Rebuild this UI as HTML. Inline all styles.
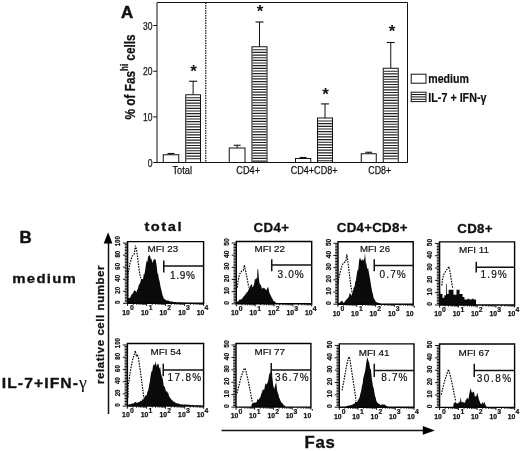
<!DOCTYPE html>
<html><head><meta charset="utf-8"><title>Figure</title>
<style>
html,body{margin:0;padding:0;background:#fff;}
body{width:520px;height:451px;overflow:hidden;font-family:"Liberation Sans",sans-serif;}
svg{display:block;filter:grayscale(1) blur(0.35px);}
svg text{font-family:"Liberation Sans",sans-serif;}
</style></head><body>
<svg width="520" height="451" viewBox="0 0 520 451">
<rect width="520" height="451" fill="#fff"/>
<path d="M157.0 2.5H407.5V162.5H157.0Z" fill="none" stroke="#111" stroke-width="1"/>
<line x1="205.75" y1="2.50" x2="205.75" y2="162.50" stroke="#111" stroke-width="1.2" stroke-dasharray="1.4 1.1"/>
<line x1="153.30" y1="25.50" x2="157.00" y2="25.50" stroke="#111" stroke-width="1" />
<text x="143.00" y="29.50" font-size="11" textLength="9.50" lengthAdjust="spacingAndGlyphs" stroke="#111" stroke-width="0.25" stroke-linejoin="round" fill="#111" >30</text>
<line x1="153.30" y1="71.25" x2="157.00" y2="71.25" stroke="#111" stroke-width="1" />
<text x="143.00" y="75.25" font-size="11" textLength="9.50" lengthAdjust="spacingAndGlyphs" stroke="#111" stroke-width="0.25" stroke-linejoin="round" fill="#111" >20</text>
<line x1="153.30" y1="116.90" x2="157.00" y2="116.90" stroke="#111" stroke-width="1" />
<text x="143.00" y="120.90" font-size="11" textLength="9.50" lengthAdjust="spacingAndGlyphs" stroke="#111" stroke-width="0.25" stroke-linejoin="round" fill="#111" >10</text>
<line x1="153.30" y1="162.50" x2="157.00" y2="162.50" stroke="#111" stroke-width="1" />
<text x="147.70" y="166.50" font-size="11" textLength="4.80" lengthAdjust="spacingAndGlyphs" stroke="#111" stroke-width="0.25" stroke-linejoin="round" fill="#111" >0</text>
<g transform="translate(134.6 119.4) rotate(-90)">
<text x="0.00" y="0.00" font-size="15" font-weight="bold" textLength="85.00" lengthAdjust="spacingAndGlyphs" stroke="#111" stroke-width="0.25" stroke-linejoin="round" fill="#111" >% of Fas<tspan font-size="10" dy="-6.5">hi</tspan><tspan dy="6.5"> cells</tspan></text>
</g>
<text x="121.10" y="17.90" font-size="16.6" font-weight="bold" textLength="12.20" lengthAdjust="spacingAndGlyphs" stroke="#111" stroke-width="0.5" stroke-linejoin="round" fill="#111" >A</text>
<defs><pattern id="st" x="0" y="0.2" width="3" height="2.65" patternUnits="userSpaceOnUse"><rect x="0" y="0" width="3" height="1.15" fill="#222"/></pattern></defs>
<line x1="171.00" y1="153.50" x2="171.00" y2="154.75" stroke="#111" stroke-width="1" />
<line x1="167.50" y1="153.50" x2="174.50" y2="153.50" stroke="#111" stroke-width="1.1" />
<rect x="163.25" y="154.75" width="15.50" height="7.75" fill="#fff" stroke="#111" stroke-width="1"/>
<line x1="193.12" y1="81.25" x2="193.12" y2="94.75" stroke="#111" stroke-width="1" />
<line x1="189.12" y1="81.25" x2="197.12" y2="81.25" stroke="#111" stroke-width="1.1" />
<rect x="185.75" y="94.75" width="14.75" height="67.75" fill="#fff" stroke="#111" stroke-width="1"/>
<path d="M186.25 97.75H200.00M186.25 100.40H200.00M186.25 103.05H200.00M186.25 105.70H200.00M186.25 108.35H200.00M186.25 111.00H200.00M186.25 113.65H200.00M186.25 116.30H200.00M186.25 118.95H200.00M186.25 121.60H200.00M186.25 124.25H200.00M186.25 126.90H200.00M186.25 129.55H200.00M186.25 132.20H200.00M186.25 134.85H200.00M186.25 137.50H200.00M186.25 140.15H200.00M186.25 142.80H200.00M186.25 145.45H200.00M186.25 148.10H200.00M186.25 150.75H200.00M186.25 153.40H200.00M186.25 156.05H200.00M186.25 158.70H200.00" fill="none" stroke="#222" stroke-width="1.15"/>
<text x="193.50" y="76.80" font-size="17" font-weight="bold" text-anchor="middle" fill="#111" >*</text>
<text x="172.50" y="174.30" font-size="11.5" textLength="19.50" lengthAdjust="spacingAndGlyphs" stroke="#111" stroke-width="0.25" stroke-linejoin="round" fill="#111" >Total</text>
<line x1="237.12" y1="145.25" x2="237.12" y2="148.00" stroke="#111" stroke-width="1" />
<line x1="233.62" y1="145.25" x2="240.62" y2="145.25" stroke="#111" stroke-width="1.1" />
<rect x="229.25" y="148.00" width="15.75" height="14.50" fill="#fff" stroke="#111" stroke-width="1"/>
<line x1="259.50" y1="22.00" x2="259.50" y2="46.75" stroke="#111" stroke-width="1" />
<line x1="255.50" y1="22.00" x2="263.50" y2="22.00" stroke="#111" stroke-width="1.1" />
<rect x="252.00" y="46.75" width="15.00" height="115.75" fill="#fff" stroke="#111" stroke-width="1"/>
<path d="M252.50 49.75H266.50M252.50 52.40H266.50M252.50 55.05H266.50M252.50 57.70H266.50M252.50 60.35H266.50M252.50 63.00H266.50M252.50 65.65H266.50M252.50 68.30H266.50M252.50 70.95H266.50M252.50 73.60H266.50M252.50 76.25H266.50M252.50 78.90H266.50M252.50 81.55H266.50M252.50 84.20H266.50M252.50 86.85H266.50M252.50 89.50H266.50M252.50 92.15H266.50M252.50 94.80H266.50M252.50 97.45H266.50M252.50 100.10H266.50M252.50 102.75H266.50M252.50 105.40H266.50M252.50 108.05H266.50M252.50 110.70H266.50M252.50 113.35H266.50M252.50 116.00H266.50M252.50 118.65H266.50M252.50 121.30H266.50M252.50 123.95H266.50M252.50 126.60H266.50M252.50 129.25H266.50M252.50 131.90H266.50M252.50 134.55H266.50M252.50 137.20H266.50M252.50 139.85H266.50M252.50 142.50H266.50M252.50 145.15H266.50M252.50 147.80H266.50M252.50 150.45H266.50M252.50 153.10H266.50M252.50 155.75H266.50M252.50 158.40H266.50M252.50 161.05H266.50" fill="none" stroke="#222" stroke-width="1.15"/>
<text x="260.00" y="17.30" font-size="17" font-weight="bold" text-anchor="middle" fill="#111" >*</text>
<text x="236.25" y="174.30" font-size="11.5" textLength="23.75" lengthAdjust="spacingAndGlyphs" stroke="#111" stroke-width="0.25" stroke-linejoin="round" fill="#111" >CD4+</text>
<line x1="303.12" y1="157.50" x2="303.12" y2="158.50" stroke="#111" stroke-width="1" />
<line x1="299.62" y1="157.50" x2="306.62" y2="157.50" stroke="#111" stroke-width="1.1" />
<rect x="295.50" y="158.50" width="15.25" height="4.00" fill="#fff" stroke="#111" stroke-width="1"/>
<line x1="325.00" y1="103.90" x2="325.00" y2="118.00" stroke="#111" stroke-width="1" />
<line x1="321.00" y1="103.90" x2="329.00" y2="103.90" stroke="#111" stroke-width="1.1" />
<rect x="317.50" y="118.00" width="15.00" height="44.50" fill="#fff" stroke="#111" stroke-width="1"/>
<path d="M318.00 121.00H332.00M318.00 123.65H332.00M318.00 126.30H332.00M318.00 128.95H332.00M318.00 131.60H332.00M318.00 134.25H332.00M318.00 136.90H332.00M318.00 139.55H332.00M318.00 142.20H332.00M318.00 144.85H332.00M318.00 147.50H332.00M318.00 150.15H332.00M318.00 152.80H332.00M318.00 155.45H332.00M318.00 158.10H332.00M318.00 160.75H332.00" fill="none" stroke="#222" stroke-width="1.15"/>
<text x="325.50" y="100.30" font-size="17" font-weight="bold" text-anchor="middle" fill="#111" >*</text>
<text x="290.75" y="174.30" font-size="11.5" textLength="46.75" lengthAdjust="spacingAndGlyphs" stroke="#111" stroke-width="0.25" stroke-linejoin="round" fill="#111" >CD4+CD8+</text>
<line x1="368.75" y1="152.25" x2="368.75" y2="153.75" stroke="#111" stroke-width="1" />
<line x1="365.25" y1="152.25" x2="372.25" y2="152.25" stroke="#111" stroke-width="1.1" />
<rect x="361.25" y="153.75" width="15.00" height="8.75" fill="#fff" stroke="#111" stroke-width="1"/>
<line x1="390.75" y1="42.50" x2="390.75" y2="68.25" stroke="#111" stroke-width="1" />
<line x1="386.75" y1="42.50" x2="394.75" y2="42.50" stroke="#111" stroke-width="1.1" />
<rect x="383.25" y="68.25" width="15.00" height="94.25" fill="#fff" stroke="#111" stroke-width="1"/>
<path d="M383.75 71.25H397.75M383.75 73.90H397.75M383.75 76.55H397.75M383.75 79.20H397.75M383.75 81.85H397.75M383.75 84.50H397.75M383.75 87.15H397.75M383.75 89.80H397.75M383.75 92.45H397.75M383.75 95.10H397.75M383.75 97.75H397.75M383.75 100.40H397.75M383.75 103.05H397.75M383.75 105.70H397.75M383.75 108.35H397.75M383.75 111.00H397.75M383.75 113.65H397.75M383.75 116.30H397.75M383.75 118.95H397.75M383.75 121.60H397.75M383.75 124.25H397.75M383.75 126.90H397.75M383.75 129.55H397.75M383.75 132.20H397.75M383.75 134.85H397.75M383.75 137.50H397.75M383.75 140.15H397.75M383.75 142.80H397.75M383.75 145.45H397.75M383.75 148.10H397.75M383.75 150.75H397.75M383.75 153.40H397.75M383.75 156.05H397.75M383.75 158.70H397.75" fill="none" stroke="#222" stroke-width="1.15"/>
<text x="392.00" y="36.80" font-size="17" font-weight="bold" text-anchor="middle" fill="#111" >*</text>
<text x="368.25" y="174.30" font-size="11.5" textLength="23.00" lengthAdjust="spacingAndGlyphs" stroke="#111" stroke-width="0.25" stroke-linejoin="round" fill="#111" >CD8+</text>
<rect x="411.2" y="74.2" width="14.8" height="9.0" fill="#fff" stroke="#111" stroke-width="1"/>
<rect x="411.2" y="92.2" width="14.8" height="9.4" fill="#fff" stroke="#111" stroke-width="1"/>
<line x1="411.50" y1="94.55" x2="425.70" y2="94.55" stroke="#111" stroke-width="1.0" />
<line x1="411.50" y1="96.90" x2="425.70" y2="96.90" stroke="#111" stroke-width="1.0" />
<line x1="411.50" y1="99.25" x2="425.70" y2="99.25" stroke="#111" stroke-width="1.0" />
<text x="428.30" y="83.30" font-size="13" font-weight="bold" textLength="40.60" lengthAdjust="spacingAndGlyphs" stroke="#111" stroke-width="0.2" stroke-linejoin="round" fill="#111" >medium</text>
<text x="428.30" y="101.50" font-size="13" font-weight="bold" textLength="58.20" lengthAdjust="spacingAndGlyphs" stroke="#111" stroke-width="0.2" stroke-linejoin="round" fill="#111" >IL-7 + IFN-&#947;</text>
<text x="19.50" y="243.00" font-size="16.8" font-weight="bold" textLength="12.20" lengthAdjust="spacingAndGlyphs" stroke="#111" stroke-width="0.45" stroke-linejoin="round" fill="#111" >B</text>
<g transform="translate(12.30 283.40) scale(1.1 1)">
<text x="0.00" y="0.00" font-size="13.6" font-weight="bold" textLength="57.82" lengthAdjust="spacing" stroke="#111" stroke-width="0.3" stroke-linejoin="round" fill="#111" >medium</text>
</g>
<g transform="translate(1.80 387.90) scale(1.1 1)">
<text x="0.00" y="0.00" font-size="14.3" font-weight="bold" textLength="77.27" lengthAdjust="spacing" stroke="#111" stroke-width="0.3" stroke-linejoin="round" fill="#111" >IL-7+IFN-<tspan font-weight="normal" font-family="Liberation Serif, serif" font-size="16" stroke-width="0.1">&#947;</tspan></text>
</g>
<g transform="translate(104.0 384) rotate(-90)">
<text x="0.00" y="0.00" font-size="11.5" font-weight="bold" textLength="118.50" lengthAdjust="spacing" stroke="#111" stroke-width="0.3" stroke-linejoin="round" fill="#111" >relative cell number</text>
</g>
<line x1="108.50" y1="240.00" x2="108.50" y2="414.00" stroke="#111" stroke-width="1.5" />
<path d="M108.1 232.2 L112.4 243.5 L103.7 243.5 Z" fill="#000"/>
<line x1="221.50" y1="430.40" x2="426.00" y2="430.40" stroke="#111" stroke-width="1.5" />
<path d="M434.9 430.4 L422.8 426.0 L422.8 434.7 Z" fill="#000"/>
<text x="304.40" y="448.00" font-size="16.8" font-weight="bold" textLength="30.50" lengthAdjust="spacing" stroke="#111" stroke-width="0.35" stroke-linejoin="round" fill="#111" >Fas</text>
<g transform="translate(144.40 231.10) scale(1.1 1)">
<text x="0.00" y="0.00" font-size="13.3" font-weight="bold" textLength="33.82" lengthAdjust="spacing" stroke="#111" stroke-width="0.3" stroke-linejoin="round" fill="#111" >total</text>
</g>
<text x="253.60" y="232.20" font-size="13.3" font-weight="bold" textLength="35.40" lengthAdjust="spacing" stroke="#111" stroke-width="0.3" stroke-linejoin="round" fill="#111" >CD4+</text>
<text x="336.80" y="232.40" font-size="13.3" font-weight="bold" textLength="70.60" lengthAdjust="spacing" stroke="#111" stroke-width="0.3" stroke-linejoin="round" fill="#111" >CD4+CD8+</text>
<text x="457.30" y="232.60" font-size="13.3" font-weight="bold" textLength="35.20" lengthAdjust="spacing" stroke="#111" stroke-width="0.3" stroke-linejoin="round" fill="#111" >CD8+</text>
<polyline points="127.88,301.96 127.88,283.23 128.17,273.14 130.04,263.05 131.48,258.01 132.93,255.13 134.37,253.69 135.37,245.76 136.53,250.09 137.25,254.41 137.97,260.17 138.69,265.94 139.41,271.70 140.13,276.02 140.85,278.18" fill="none" stroke="#000" stroke-width="1.15" stroke-dasharray="1.6 1.1"/>
<path d="M127.59 303.30 L127.59 297.30 L128.46 298.05 L129.32 298.20 L130.04 297.53 L130.76 296.62 L131.48 294.81 L132.20 293.46 L132.93 293.69 L133.65 291.40 L134.22 290.23 L134.80 290.82 L135.52 290.73 L136.24 292.54 L137.10 290.02 L137.97 288.61 L138.69 285.18 L139.41 284.34 L140.27 282.61 L141.14 278.99 L142.00 278.64 L143.01 279.51 L143.73 274.33 L144.45 274.23 L145.17 269.96 L145.89 264.93 L146.61 260.51 L147.33 262.28 L148.05 257.12 L148.78 255.82 L149.50 255.21 L150.07 255.65 L150.65 258.50 L151.66 259.57 L152.67 263.30 L153.24 259.49 L153.82 260.64 L154.54 258.92 L155.55 259.36 L156.12 262.58 L156.70 265.99 L157.42 273.06 L158.14 274.32 L158.86 278.64 L159.58 281.15 L160.30 285.41 L161.02 288.73 L161.74 291.58 L162.46 294.89 L163.18 296.67 L163.90 298.84 L164.63 299.04 L165.35 299.78 L166.07 300.16 L166.79 300.53 L167.51 300.44 L168.23 300.20 L168.95 301.04 L169.67 301.32 L170.39 301.44 L171.11 301.35 L171.83 301.65 L172.55 301.44 L173.37 302.12 L174.18 302.11 L175.00 302.09 L175.75 301.97 L176.50 302.58 L177.25 302.72 L178.01 302.12 L178.76 302.66 L179.51 302.43 L180.26 302.29 L181.01 302.44 L181.76 302.80 L182.51 302.91 L183.26 302.39 L184.02 302.82 L184.77 302.48 L185.52 302.82 L185.52 303.30 Z" fill="#0a0a0a"/>
<path d="M127.6 241.6H203.6V303.3H127.6Z" fill="none" stroke="#000" stroke-width="1.4"/>
<g transform="translate(120.10 302.30) rotate(-90)">
<text x="-1.70" y="0.00" font-size="7.4" font-weight="bold" textLength="3.40" lengthAdjust="spacingAndGlyphs" stroke="#111" stroke-width="0.25" stroke-linejoin="round" fill="#111" >0</text>
</g>
<g transform="translate(120.10 290.28) rotate(-90)">
<text x="-3.40" y="0.00" font-size="7.4" font-weight="bold" textLength="6.80" lengthAdjust="spacingAndGlyphs" stroke="#111" stroke-width="0.25" stroke-linejoin="round" fill="#111" >20</text>
</g>
<g transform="translate(120.10 278.26) rotate(-90)">
<text x="-3.40" y="0.00" font-size="7.4" font-weight="bold" textLength="6.80" lengthAdjust="spacingAndGlyphs" stroke="#111" stroke-width="0.25" stroke-linejoin="round" fill="#111" >40</text>
</g>
<g transform="translate(120.10 266.24) rotate(-90)">
<text x="-3.40" y="0.00" font-size="7.4" font-weight="bold" textLength="6.80" lengthAdjust="spacingAndGlyphs" stroke="#111" stroke-width="0.25" stroke-linejoin="round" fill="#111" >60</text>
</g>
<g transform="translate(120.10 254.22) rotate(-90)">
<text x="-3.40" y="0.00" font-size="7.4" font-weight="bold" textLength="6.80" lengthAdjust="spacingAndGlyphs" stroke="#111" stroke-width="0.25" stroke-linejoin="round" fill="#111" >80</text>
</g>
<g transform="translate(120.10 241.20) rotate(-90)">
<text x="-5.10" y="0.00" font-size="7.4" font-weight="bold" textLength="10.20" lengthAdjust="spacingAndGlyphs" stroke="#111" stroke-width="0.25" stroke-linejoin="round" fill="#111" >100</text>
</g>
<path d="M123.0 303.30H127.6M124.8 301.80H127.6M124.8 300.29H127.6M124.8 298.79H127.6M124.8 297.28H127.6M124.8 295.78H127.6M124.8 294.27H127.6M124.8 292.76H127.6M123.0 291.26H127.6M124.8 289.75H127.6M124.8 288.25H127.6M124.8 286.75H127.6M124.8 285.24H127.6M124.8 283.74H127.6M124.8 282.23H127.6M124.8 280.73H127.6M123.0 279.22H127.6M124.8 277.72H127.6M124.8 276.21H127.6M124.8 274.70H127.6M124.8 273.20H127.6M124.8 271.69H127.6M124.8 270.19H127.6M124.8 268.69H127.6M123.0 267.18H127.6M124.8 265.68H127.6M124.8 264.17H127.6M124.8 262.67H127.6M124.8 261.16H127.6M124.8 259.65H127.6M124.8 258.15H127.6M124.8 256.64H127.6M123.0 255.14H127.6M124.8 253.63H127.6M124.8 252.13H127.6M124.8 250.62H127.6M124.8 249.12H127.6M124.8 247.62H127.6M124.8 246.11H127.6M124.8 244.60H127.6M123.0 243.10H127.6M127.6 303.3v2.6M133.3 303.3v1.5M136.7 303.3v1.5M139.0 303.3v1.5M140.9 303.3v1.5M142.4 303.3v1.5M143.7 303.3v1.5M144.8 303.3v1.5M145.7 303.3v1.5M146.6 303.3v2.6M152.3 303.3v1.5M155.7 303.3v1.5M158.0 303.3v1.5M159.9 303.3v1.5M161.4 303.3v1.5M162.7 303.3v1.5M163.8 303.3v1.5M164.7 303.3v1.5M165.6 303.3v2.6M171.3 303.3v1.5M174.7 303.3v1.5M177.0 303.3v1.5M178.9 303.3v1.5M180.4 303.3v1.5M181.7 303.3v1.5M182.8 303.3v1.5M183.7 303.3v1.5M184.6 303.3v2.6M190.3 303.3v1.5M193.7 303.3v1.5M196.0 303.3v1.5M197.9 303.3v1.5M199.4 303.3v1.5M200.7 303.3v1.5M201.8 303.3v1.5M202.7 303.3v1.5M203.6 303.3v2.6" fill="none" stroke="#111" stroke-width="1.0"/>
<text x="122.30" y="314.60" font-size="7.2" font-weight="bold" textLength="7.60" lengthAdjust="spacingAndGlyphs" stroke="#111" stroke-width="0.25" stroke-linejoin="round" fill="#111" >10</text>
<text x="130.10" y="310.20" font-size="6.6" font-weight="bold" textLength="3.80" lengthAdjust="spacingAndGlyphs" stroke="#111" stroke-width="0.2" stroke-linejoin="round" fill="#111" >0</text>
<text x="140.92" y="314.60" font-size="7.2" font-weight="bold" textLength="7.60" lengthAdjust="spacingAndGlyphs" stroke="#111" stroke-width="0.25" stroke-linejoin="round" fill="#111" >10</text>
<text x="148.72" y="310.20" font-size="6.6" font-weight="bold" textLength="3.80" lengthAdjust="spacingAndGlyphs" stroke="#111" stroke-width="0.2" stroke-linejoin="round" fill="#111" >1</text>
<text x="159.54" y="314.60" font-size="7.2" font-weight="bold" textLength="7.60" lengthAdjust="spacingAndGlyphs" stroke="#111" stroke-width="0.25" stroke-linejoin="round" fill="#111" >10</text>
<text x="167.34" y="310.20" font-size="6.6" font-weight="bold" textLength="3.80" lengthAdjust="spacingAndGlyphs" stroke="#111" stroke-width="0.2" stroke-linejoin="round" fill="#111" >2</text>
<text x="178.16" y="314.60" font-size="7.2" font-weight="bold" textLength="7.60" lengthAdjust="spacingAndGlyphs" stroke="#111" stroke-width="0.25" stroke-linejoin="round" fill="#111" >10</text>
<text x="185.96" y="310.20" font-size="6.6" font-weight="bold" textLength="3.80" lengthAdjust="spacingAndGlyphs" stroke="#111" stroke-width="0.2" stroke-linejoin="round" fill="#111" >3</text>
<text x="196.78" y="314.60" font-size="7.2" font-weight="bold" textLength="7.60" lengthAdjust="spacingAndGlyphs" stroke="#111" stroke-width="0.25" stroke-linejoin="round" fill="#111" >10</text>
<text x="204.58" y="310.20" font-size="6.6" font-weight="bold" textLength="3.80" lengthAdjust="spacingAndGlyphs" stroke="#111" stroke-width="0.2" stroke-linejoin="round" fill="#111" >4</text>
<text x="147.60" y="252.00" font-size="9.5" textLength="30.50" lengthAdjust="spacingAndGlyphs" stroke="#111" stroke-width="0.2" stroke-linejoin="round" fill="#111" >MFI 23</text>
<line x1="163.75" y1="260.50" x2="163.75" y2="272.50" stroke="#111" stroke-width="1.5" />
<line x1="163.75" y1="266.00" x2="203.60" y2="266.00" stroke="#111" stroke-width="1.5" />
<text x="170.00" y="278.80" font-size="10" textLength="25.00" lengthAdjust="spacing" stroke="#111" stroke-width="0.2" stroke-linejoin="round" fill="#111" >1.9%</text>
<polyline points="237.17,287.55 238.03,281.79 239.04,276.02 240.48,272.42 241.93,270.98 243.37,270.26 244.37,265.22 245.24,269.54 246.25,273.86 247.26,278.90 248.12,283.95 249.13,287.55" fill="none" stroke="#000" stroke-width="1.15" stroke-dasharray="1.6 1.1"/>
<path d="M236.59 303.80 L236.59 302.49 L237.41 301.63 L238.23 301.14 L239.04 300.18 L239.76 299.58 L240.48 299.45 L241.20 299.57 L241.93 298.73 L242.65 297.99 L243.37 296.52 L244.09 296.25 L244.81 295.12 L245.53 294.20 L246.25 293.34 L246.97 292.04 L247.69 292.06 L248.41 290.12 L249.13 288.33 L249.85 287.62 L250.57 285.27 L251.58 284.12 L252.16 286.10 L252.73 287.44 L253.45 285.70 L254.17 283.71 L254.89 279.31 L255.61 279.28 L256.33 277.40 L257.05 279.65 L257.49 268.77 L258.21 269.85 L258.78 277.43 L259.36 282.51 L259.94 284.35 L260.51 284.81 L261.09 285.57 L262.10 289.28 L262.82 287.73 L263.54 287.84 L264.26 288.44 L264.98 288.29 L265.99 290.24 L266.56 289.94 L267.14 288.83 L267.72 287.44 L268.29 287.05 L269.30 292.51 L270.31 294.75 L271.03 295.89 L271.75 297.81 L272.47 298.82 L273.19 300.55 L274.13 301.21 L275.07 301.83 L275.79 302.82 L276.51 302.71 L277.23 303.40 L277.23 303.80 Z" fill="#0a0a0a"/>
<path d="M236.3 241.5H311.7V303.8H236.3Z" fill="none" stroke="#000" stroke-width="1.4"/>
<g transform="translate(228.80 302.80) rotate(-90)">
<text x="-1.85" y="0.00" font-size="8.0" font-weight="bold" textLength="3.70" lengthAdjust="spacingAndGlyphs" stroke="#111" stroke-width="0.25" stroke-linejoin="round" fill="#111" >0</text>
</g>
<g transform="translate(228.80 290.66) rotate(-90)">
<text x="-3.70" y="0.00" font-size="8.0" font-weight="bold" textLength="7.40" lengthAdjust="spacingAndGlyphs" stroke="#111" stroke-width="0.25" stroke-linejoin="round" fill="#111" >10</text>
</g>
<g transform="translate(228.80 278.52) rotate(-90)">
<text x="-3.70" y="0.00" font-size="8.0" font-weight="bold" textLength="7.40" lengthAdjust="spacingAndGlyphs" stroke="#111" stroke-width="0.25" stroke-linejoin="round" fill="#111" >20</text>
</g>
<g transform="translate(228.80 266.38) rotate(-90)">
<text x="-3.70" y="0.00" font-size="8.0" font-weight="bold" textLength="7.40" lengthAdjust="spacingAndGlyphs" stroke="#111" stroke-width="0.25" stroke-linejoin="round" fill="#111" >30</text>
</g>
<g transform="translate(228.80 254.24) rotate(-90)">
<text x="-3.70" y="0.00" font-size="8.0" font-weight="bold" textLength="7.40" lengthAdjust="spacingAndGlyphs" stroke="#111" stroke-width="0.25" stroke-linejoin="round" fill="#111" >40</text>
</g>
<g transform="translate(228.80 242.10) rotate(-90)">
<text x="-3.70" y="0.00" font-size="8.0" font-weight="bold" textLength="7.40" lengthAdjust="spacingAndGlyphs" stroke="#111" stroke-width="0.25" stroke-linejoin="round" fill="#111" >50</text>
</g>
<path d="M231.7 303.80H236.3M233.5 302.28H236.3M233.5 300.76H236.3M233.5 299.24H236.3M233.5 297.72H236.3M233.5 296.20H236.3M233.5 294.68H236.3M233.5 293.16H236.3M231.7 291.64H236.3M233.5 290.12H236.3M233.5 288.60H236.3M233.5 287.08H236.3M233.5 285.56H236.3M233.5 284.04H236.3M233.5 282.52H236.3M233.5 281.00H236.3M231.7 279.48H236.3M233.5 277.96H236.3M233.5 276.44H236.3M233.5 274.92H236.3M233.5 273.40H236.3M233.5 271.88H236.3M233.5 270.36H236.3M233.5 268.84H236.3M231.7 267.32H236.3M233.5 265.80H236.3M233.5 264.28H236.3M233.5 262.76H236.3M233.5 261.24H236.3M233.5 259.72H236.3M233.5 258.20H236.3M233.5 256.68H236.3M231.7 255.16H236.3M233.5 253.64H236.3M233.5 252.12H236.3M233.5 250.60H236.3M233.5 249.08H236.3M233.5 247.56H236.3M233.5 246.04H236.3M233.5 244.52H236.3M231.7 243.00H236.3M236.3 303.8v2.6M242.0 303.8v1.5M245.3 303.8v1.5M247.6 303.8v1.5M249.5 303.8v1.5M251.0 303.8v1.5M252.2 303.8v1.5M253.3 303.8v1.5M254.3 303.8v1.5M255.2 303.8v2.6M260.8 303.8v1.5M264.1 303.8v1.5M266.5 303.8v1.5M268.3 303.8v1.5M269.8 303.8v1.5M271.1 303.8v1.5M272.2 303.8v1.5M273.1 303.8v1.5M274.0 303.8v2.6M279.7 303.8v1.5M283.0 303.8v1.5M285.3 303.8v1.5M287.2 303.8v1.5M288.7 303.8v1.5M289.9 303.8v1.5M291.0 303.8v1.5M292.0 303.8v1.5M292.9 303.8v2.6M298.5 303.8v1.5M301.8 303.8v1.5M304.2 303.8v1.5M306.0 303.8v1.5M307.5 303.8v1.5M308.8 303.8v1.5M309.9 303.8v1.5M310.8 303.8v1.5M311.7 303.8v2.6" fill="none" stroke="#111" stroke-width="1.0"/>
<text x="231.00" y="315.10" font-size="7.2" font-weight="bold" textLength="7.60" lengthAdjust="spacingAndGlyphs" stroke="#111" stroke-width="0.25" stroke-linejoin="round" fill="#111" >10</text>
<text x="238.80" y="310.70" font-size="6.6" font-weight="bold" textLength="3.80" lengthAdjust="spacingAndGlyphs" stroke="#111" stroke-width="0.2" stroke-linejoin="round" fill="#111" >0</text>
<text x="249.47" y="315.10" font-size="7.2" font-weight="bold" textLength="7.60" lengthAdjust="spacingAndGlyphs" stroke="#111" stroke-width="0.25" stroke-linejoin="round" fill="#111" >10</text>
<text x="257.27" y="310.70" font-size="6.6" font-weight="bold" textLength="3.80" lengthAdjust="spacingAndGlyphs" stroke="#111" stroke-width="0.2" stroke-linejoin="round" fill="#111" >1</text>
<text x="267.95" y="315.10" font-size="7.2" font-weight="bold" textLength="7.60" lengthAdjust="spacingAndGlyphs" stroke="#111" stroke-width="0.25" stroke-linejoin="round" fill="#111" >10</text>
<text x="275.75" y="310.70" font-size="6.6" font-weight="bold" textLength="3.80" lengthAdjust="spacingAndGlyphs" stroke="#111" stroke-width="0.2" stroke-linejoin="round" fill="#111" >2</text>
<text x="286.42" y="315.10" font-size="7.2" font-weight="bold" textLength="7.60" lengthAdjust="spacingAndGlyphs" stroke="#111" stroke-width="0.25" stroke-linejoin="round" fill="#111" >10</text>
<text x="294.22" y="310.70" font-size="6.6" font-weight="bold" textLength="3.80" lengthAdjust="spacingAndGlyphs" stroke="#111" stroke-width="0.2" stroke-linejoin="round" fill="#111" >3</text>
<text x="304.89" y="315.10" font-size="7.2" font-weight="bold" textLength="7.60" lengthAdjust="spacingAndGlyphs" stroke="#111" stroke-width="0.25" stroke-linejoin="round" fill="#111" >10</text>
<text x="312.69" y="310.70" font-size="6.6" font-weight="bold" textLength="3.80" lengthAdjust="spacingAndGlyphs" stroke="#111" stroke-width="0.2" stroke-linejoin="round" fill="#111" >4</text>
<text x="254.50" y="251.80" font-size="9.5" textLength="30.50" lengthAdjust="spacingAndGlyphs" stroke="#111" stroke-width="0.2" stroke-linejoin="round" fill="#111" >MFI 22</text>
<line x1="271.75" y1="259.25" x2="271.75" y2="271.25" stroke="#111" stroke-width="1.5" />
<line x1="271.75" y1="265.00" x2="311.70" y2="265.00" stroke="#111" stroke-width="1.5" />
<text x="277.50" y="277.50" font-size="10" textLength="26.25" lengthAdjust="spacing" stroke="#111" stroke-width="0.2" stroke-linejoin="round" fill="#111" >3.0%</text>
<polyline points="338.17,283.23 338.60,278.90 340.04,273.14 341.48,267.38 342.93,263.78 344.37,262.33 345.81,261.61 346.82,254.41 347.68,260.17 348.26,264.50 349.12,271.70 349.99,278.90 350.85,286.11 352.00,291.87 353.01,295.48" fill="none" stroke="#000" stroke-width="1.15" stroke-dasharray="1.6 1.1"/>
<path d="M337.59 304.20 L337.59 303.49 L338.60 303.57 L339.32 302.91 L340.04 302.34 L340.76 301.47 L341.48 300.96 L342.20 300.79 L342.93 301.93 L343.65 303.03 L344.37 302.09 L345.09 301.62 L345.81 300.12 L346.53 299.76 L347.25 298.52 L347.97 297.94 L348.69 297.03 L349.41 294.29 L350.13 292.77 L351.14 295.85 L352.07 294.11 L353.01 291.03 L353.73 287.42 L354.45 286.93 L355.17 282.10 L355.89 280.75 L356.61 275.29 L357.33 270.99 L358.34 269.24 L358.92 262.19 L359.50 258.50 L360.36 258.26 L361.22 260.99 L362.09 258.93 L363.10 260.85 L363.82 259.69 L364.39 258.40 L364.97 253.21 L365.84 262.77 L366.41 263.76 L366.99 267.68 L367.56 269.01 L368.14 267.84 L368.72 271.81 L369.29 274.69 L370.01 279.12 L370.73 283.39 L371.46 287.77 L372.18 292.09 L372.90 293.89 L373.62 297.88 L374.48 299.25 L375.35 301.06 L376.07 302.01 L376.79 302.18 L377.51 302.54 L378.23 302.87 L378.95 303.23 L379.67 302.97 L380.39 303.81 L381.11 303.69 L381.11 304.20 Z" fill="#0a0a0a"/>
<path d="M338 241.8H413.2V304.2H338Z" fill="none" stroke="#000" stroke-width="1.4"/>
<g transform="translate(330.50 303.20) rotate(-90)">
<text x="-1.85" y="0.00" font-size="8.0" font-weight="bold" textLength="3.70" lengthAdjust="spacingAndGlyphs" stroke="#111" stroke-width="0.25" stroke-linejoin="round" fill="#111" >0</text>
</g>
<g transform="translate(330.50 291.04) rotate(-90)">
<text x="-3.70" y="0.00" font-size="8.0" font-weight="bold" textLength="7.40" lengthAdjust="spacingAndGlyphs" stroke="#111" stroke-width="0.25" stroke-linejoin="round" fill="#111" >10</text>
</g>
<g transform="translate(330.50 278.88) rotate(-90)">
<text x="-3.70" y="0.00" font-size="8.0" font-weight="bold" textLength="7.40" lengthAdjust="spacingAndGlyphs" stroke="#111" stroke-width="0.25" stroke-linejoin="round" fill="#111" >20</text>
</g>
<g transform="translate(330.50 266.72) rotate(-90)">
<text x="-3.70" y="0.00" font-size="8.0" font-weight="bold" textLength="7.40" lengthAdjust="spacingAndGlyphs" stroke="#111" stroke-width="0.25" stroke-linejoin="round" fill="#111" >30</text>
</g>
<g transform="translate(330.50 254.56) rotate(-90)">
<text x="-3.70" y="0.00" font-size="8.0" font-weight="bold" textLength="7.40" lengthAdjust="spacingAndGlyphs" stroke="#111" stroke-width="0.25" stroke-linejoin="round" fill="#111" >40</text>
</g>
<g transform="translate(330.50 242.40) rotate(-90)">
<text x="-3.70" y="0.00" font-size="8.0" font-weight="bold" textLength="7.40" lengthAdjust="spacingAndGlyphs" stroke="#111" stroke-width="0.25" stroke-linejoin="round" fill="#111" >50</text>
</g>
<path d="M333.4 304.20H338.0M335.2 302.68H338.0M335.2 301.15H338.0M335.2 299.63H338.0M335.2 298.11H338.0M335.2 296.59H338.0M335.2 295.06H338.0M335.2 293.54H338.0M333.4 292.02H338.0M335.2 290.50H338.0M335.2 288.98H338.0M335.2 287.45H338.0M335.2 285.93H338.0M335.2 284.41H338.0M335.2 282.88H338.0M335.2 281.36H338.0M333.4 279.84H338.0M335.2 278.32H338.0M335.2 276.80H338.0M335.2 275.27H338.0M335.2 273.75H338.0M335.2 272.23H338.0M335.2 270.70H338.0M335.2 269.18H338.0M333.4 267.66H338.0M335.2 266.14H338.0M335.2 264.62H338.0M335.2 263.09H338.0M335.2 261.57H338.0M335.2 260.05H338.0M335.2 258.52H338.0M335.2 257.00H338.0M333.4 255.48H338.0M335.2 253.96H338.0M335.2 252.44H338.0M335.2 250.91H338.0M335.2 249.39H338.0M335.2 247.87H338.0M335.2 246.35H338.0M335.2 244.82H338.0M333.4 243.30H338.0M338.0 304.2v2.6M343.7 304.2v1.5M347.0 304.2v1.5M349.3 304.2v1.5M351.1 304.2v1.5M352.6 304.2v1.5M353.9 304.2v1.5M355.0 304.2v1.5M355.9 304.2v1.5M356.8 304.2v2.6M362.5 304.2v1.5M365.8 304.2v1.5M368.1 304.2v1.5M369.9 304.2v1.5M371.4 304.2v1.5M372.7 304.2v1.5M373.8 304.2v1.5M374.7 304.2v1.5M375.6 304.2v2.6M381.3 304.2v1.5M384.6 304.2v1.5M386.9 304.2v1.5M388.7 304.2v1.5M390.2 304.2v1.5M391.5 304.2v1.5M392.6 304.2v1.5M393.5 304.2v1.5M394.4 304.2v2.6M400.1 304.2v1.5M403.4 304.2v1.5M405.7 304.2v1.5M407.5 304.2v1.5M409.0 304.2v1.5M410.3 304.2v1.5M411.4 304.2v1.5M412.3 304.2v1.5M413.2 304.2v2.6" fill="none" stroke="#111" stroke-width="1.0"/>
<text x="332.70" y="315.50" font-size="7.2" font-weight="bold" textLength="7.60" lengthAdjust="spacingAndGlyphs" stroke="#111" stroke-width="0.25" stroke-linejoin="round" fill="#111" >10</text>
<text x="340.50" y="311.10" font-size="6.6" font-weight="bold" textLength="3.80" lengthAdjust="spacingAndGlyphs" stroke="#111" stroke-width="0.2" stroke-linejoin="round" fill="#111" >0</text>
<text x="351.12" y="315.50" font-size="7.2" font-weight="bold" textLength="7.60" lengthAdjust="spacingAndGlyphs" stroke="#111" stroke-width="0.25" stroke-linejoin="round" fill="#111" >10</text>
<text x="358.92" y="311.10" font-size="6.6" font-weight="bold" textLength="3.80" lengthAdjust="spacingAndGlyphs" stroke="#111" stroke-width="0.2" stroke-linejoin="round" fill="#111" >1</text>
<text x="369.55" y="315.50" font-size="7.2" font-weight="bold" textLength="7.60" lengthAdjust="spacingAndGlyphs" stroke="#111" stroke-width="0.25" stroke-linejoin="round" fill="#111" >10</text>
<text x="377.35" y="311.10" font-size="6.6" font-weight="bold" textLength="3.80" lengthAdjust="spacingAndGlyphs" stroke="#111" stroke-width="0.2" stroke-linejoin="round" fill="#111" >2</text>
<text x="387.97" y="315.50" font-size="7.2" font-weight="bold" textLength="7.60" lengthAdjust="spacingAndGlyphs" stroke="#111" stroke-width="0.25" stroke-linejoin="round" fill="#111" >10</text>
<text x="395.77" y="311.10" font-size="6.6" font-weight="bold" textLength="3.80" lengthAdjust="spacingAndGlyphs" stroke="#111" stroke-width="0.2" stroke-linejoin="round" fill="#111" >3</text>
<text x="405.90" y="315.50" font-size="7.2" font-weight="bold" textLength="7.60" lengthAdjust="spacingAndGlyphs" stroke="#111" stroke-width="0.25" stroke-linejoin="round" fill="#111" >10</text>
<text x="413.70" y="310.70" font-size="7" font-weight="bold" fill="#111" >'</text>
<text x="360.00" y="252.00" font-size="9.5" textLength="30.00" lengthAdjust="spacingAndGlyphs" stroke="#111" stroke-width="0.2" stroke-linejoin="round" fill="#111" >MFI 26</text>
<line x1="374.25" y1="259.25" x2="374.25" y2="271.25" stroke="#111" stroke-width="1.5" />
<line x1="374.25" y1="265.50" x2="413.20" y2="265.50" stroke="#111" stroke-width="1.5" />
<text x="379.50" y="278.00" font-size="10" textLength="26.25" lengthAdjust="spacing" stroke="#111" stroke-width="0.2" stroke-linejoin="round" fill="#111" >0.7%</text>
<polyline points="441.88,285.49 442.49,279.39 443.71,274.51 445.54,271.46 447.37,269.02 448.83,266.59 449.80,270.85 450.66,275.73 451.39,280.61 452.24,285.49 452.85,288.54" fill="none" stroke="#000" stroke-width="1.15" stroke-dasharray="1.6 1.1"/>
<path d="M439.20 305.00 L439.20 294.02 L439.56 294.02 L439.68 290.98 L440.17 290.98 L440.29 294.02 L442.49 294.02 L442.49 297.68 L444.32 297.68 L444.32 295.24 L446.02 295.24 L446.15 283.66 L446.76 283.66 L446.88 294.02 L448.59 294.02 L448.59 289.76 L453.46 289.76 L453.46 294.63 L456.51 294.63 L456.51 289.76 L459.56 289.76 L459.56 294.02 L462.61 294.02 L462.61 297.07 L464.44 297.07 L464.44 299.51 L467.49 299.51 L467.49 298.66 L469.32 298.66 L469.32 299.51 L471.76 299.51 L471.76 298.66 L473.59 298.66 L473.59 299.51 L476.02 299.51 L476.02 305.00 Z" fill="#0a0a0a"/>
<path d="M439.6 241.9H514.6V305H439.6Z" fill="none" stroke="#000" stroke-width="1.4"/>
<g transform="translate(432.10 304.00) rotate(-90)">
<text x="-1.85" y="0.00" font-size="8.0" font-weight="bold" textLength="3.70" lengthAdjust="spacingAndGlyphs" stroke="#111" stroke-width="0.25" stroke-linejoin="round" fill="#111" >0</text>
</g>
<g transform="translate(432.10 291.70) rotate(-90)">
<text x="-3.70" y="0.00" font-size="8.0" font-weight="bold" textLength="7.40" lengthAdjust="spacingAndGlyphs" stroke="#111" stroke-width="0.25" stroke-linejoin="round" fill="#111" >10</text>
</g>
<g transform="translate(432.10 279.40) rotate(-90)">
<text x="-3.70" y="0.00" font-size="8.0" font-weight="bold" textLength="7.40" lengthAdjust="spacingAndGlyphs" stroke="#111" stroke-width="0.25" stroke-linejoin="round" fill="#111" >20</text>
</g>
<g transform="translate(432.10 267.10) rotate(-90)">
<text x="-3.70" y="0.00" font-size="8.0" font-weight="bold" textLength="7.40" lengthAdjust="spacingAndGlyphs" stroke="#111" stroke-width="0.25" stroke-linejoin="round" fill="#111" >30</text>
</g>
<g transform="translate(432.10 254.80) rotate(-90)">
<text x="-3.70" y="0.00" font-size="8.0" font-weight="bold" textLength="7.40" lengthAdjust="spacingAndGlyphs" stroke="#111" stroke-width="0.25" stroke-linejoin="round" fill="#111" >40</text>
</g>
<g transform="translate(432.10 242.50) rotate(-90)">
<text x="-3.70" y="0.00" font-size="8.0" font-weight="bold" textLength="7.40" lengthAdjust="spacingAndGlyphs" stroke="#111" stroke-width="0.25" stroke-linejoin="round" fill="#111" >50</text>
</g>
<path d="M435.0 305.00H439.6M436.8 303.46H439.6M436.8 301.92H439.6M436.8 300.38H439.6M436.8 298.84H439.6M436.8 297.30H439.6M436.8 295.76H439.6M436.8 294.22H439.6M435.0 292.68H439.6M436.8 291.14H439.6M436.8 289.60H439.6M436.8 288.06H439.6M436.8 286.52H439.6M436.8 284.98H439.6M436.8 283.44H439.6M436.8 281.90H439.6M435.0 280.36H439.6M436.8 278.82H439.6M436.8 277.28H439.6M436.8 275.74H439.6M436.8 274.20H439.6M436.8 272.66H439.6M436.8 271.12H439.6M436.8 269.58H439.6M435.0 268.04H439.6M436.8 266.50H439.6M436.8 264.96H439.6M436.8 263.42H439.6M436.8 261.88H439.6M436.8 260.34H439.6M436.8 258.80H439.6M436.8 257.26H439.6M435.0 255.72H439.6M436.8 254.18H439.6M436.8 252.64H439.6M436.8 251.10H439.6M436.8 249.56H439.6M436.8 248.02H439.6M436.8 246.48H439.6M436.8 244.94H439.6M435.0 243.40H439.6M439.6 305.0v2.6M445.2 305.0v1.5M448.5 305.0v1.5M450.9 305.0v1.5M452.7 305.0v1.5M454.2 305.0v1.5M455.4 305.0v1.5M456.5 305.0v1.5M457.5 305.0v1.5M458.4 305.0v2.6M464.0 305.0v1.5M467.3 305.0v1.5M469.6 305.0v1.5M471.5 305.0v1.5M472.9 305.0v1.5M474.2 305.0v1.5M475.3 305.0v1.5M476.2 305.0v1.5M477.1 305.0v2.6M482.7 305.0v1.5M486.0 305.0v1.5M488.4 305.0v1.5M490.2 305.0v1.5M491.7 305.0v1.5M492.9 305.0v1.5M494.0 305.0v1.5M495.0 305.0v1.5M495.9 305.0v2.6M501.5 305.0v1.5M504.8 305.0v1.5M507.1 305.0v1.5M509.0 305.0v1.5M510.4 305.0v1.5M511.7 305.0v1.5M512.8 305.0v1.5M513.7 305.0v1.5M514.6 305.0v2.6" fill="none" stroke="#111" stroke-width="1.0"/>
<text x="434.30" y="316.30" font-size="7.2" font-weight="bold" textLength="7.60" lengthAdjust="spacingAndGlyphs" stroke="#111" stroke-width="0.25" stroke-linejoin="round" fill="#111" >10</text>
<text x="442.10" y="311.90" font-size="6.6" font-weight="bold" textLength="3.80" lengthAdjust="spacingAndGlyphs" stroke="#111" stroke-width="0.2" stroke-linejoin="round" fill="#111" >0</text>
<text x="452.68" y="316.30" font-size="7.2" font-weight="bold" textLength="7.60" lengthAdjust="spacingAndGlyphs" stroke="#111" stroke-width="0.25" stroke-linejoin="round" fill="#111" >10</text>
<text x="460.48" y="311.90" font-size="6.6" font-weight="bold" textLength="3.80" lengthAdjust="spacingAndGlyphs" stroke="#111" stroke-width="0.2" stroke-linejoin="round" fill="#111" >1</text>
<text x="471.05" y="316.30" font-size="7.2" font-weight="bold" textLength="7.60" lengthAdjust="spacingAndGlyphs" stroke="#111" stroke-width="0.25" stroke-linejoin="round" fill="#111" >10</text>
<text x="478.85" y="311.90" font-size="6.6" font-weight="bold" textLength="3.80" lengthAdjust="spacingAndGlyphs" stroke="#111" stroke-width="0.2" stroke-linejoin="round" fill="#111" >2</text>
<text x="489.43" y="316.30" font-size="7.2" font-weight="bold" textLength="7.60" lengthAdjust="spacingAndGlyphs" stroke="#111" stroke-width="0.25" stroke-linejoin="round" fill="#111" >10</text>
<text x="497.23" y="311.90" font-size="6.6" font-weight="bold" textLength="3.80" lengthAdjust="spacingAndGlyphs" stroke="#111" stroke-width="0.2" stroke-linejoin="round" fill="#111" >3</text>
<text x="507.80" y="316.30" font-size="7.2" font-weight="bold" textLength="7.60" lengthAdjust="spacingAndGlyphs" stroke="#111" stroke-width="0.25" stroke-linejoin="round" fill="#111" >10</text>
<text x="515.60" y="311.90" font-size="6.6" font-weight="bold" textLength="3.80" lengthAdjust="spacingAndGlyphs" stroke="#111" stroke-width="0.2" stroke-linejoin="round" fill="#111" >4</text>
<text x="459.00" y="253.30" font-size="9.5" textLength="30.00" lengthAdjust="spacingAndGlyphs" stroke="#111" stroke-width="0.2" stroke-linejoin="round" fill="#111" >MFI 11</text>
<line x1="476.25" y1="261.75" x2="476.25" y2="272.50" stroke="#111" stroke-width="1.5" />
<line x1="476.25" y1="267.25" x2="514.60" y2="267.25" stroke="#111" stroke-width="1.5" />
<text x="480.50" y="278.30" font-size="10" textLength="26.25" lengthAdjust="spacing" stroke="#111" stroke-width="0.2" stroke-linejoin="round" fill="#111" >1.9%</text>
<polyline points="127.93,397.64 128.22,385.92 129.10,380.07 130.12,372.75 131.15,366.89 132.32,361.03 133.49,356.64 134.52,353.71 135.25,350.78 136.42,355.91 137.45,355.18 138.47,358.11 139.35,363.96 140.37,371.28 141.40,378.60 142.28,385.92 143.30,393.24 144.03,398.37" fill="none" stroke="#000" stroke-width="1.15" stroke-dasharray="1.6 1.1"/>
<path d="M127.20 406.10 L127.20 404.80 L127.93 404.49 L128.66 404.80 L129.39 404.11 L130.12 404.41 L130.86 404.09 L131.59 403.59 L132.32 403.87 L133.05 403.18 L133.78 403.42 L134.52 402.50 L135.25 402.01 L135.98 401.93 L136.71 403.01 L137.45 402.77 L138.18 402.23 L138.91 402.10 L139.64 401.93 L140.37 401.04 L141.11 400.41 L141.84 400.95 L142.57 399.10 L143.30 399.72 L144.03 397.98 L144.77 396.95 L145.40 395.87 L146.03 395.26 L146.67 395.45 L147.40 391.66 L148.13 390.56 L148.72 387.86 L149.30 383.97 L149.89 381.73 L150.48 376.56 L151.06 373.43 L151.65 371.12 L152.23 371.25 L152.82 367.17 L153.40 364.58 L153.99 364.54 L155.01 365.12 L155.75 361.10 L156.63 366.66 L157.50 363.89 L158.38 363.74 L159.41 368.81 L160.14 367.05 L161.02 373.43 L161.90 376.85 L162.77 379.12 L163.80 386.30 L164.82 386.86 L165.41 389.33 L166.00 391.79 L166.73 390.81 L167.46 392.48 L168.19 392.84 L168.92 395.82 L169.80 397.45 L170.68 398.50 L171.32 399.75 L171.95 399.53 L172.58 400.86 L173.32 401.19 L174.05 401.65 L174.78 401.97 L175.51 402.82 L176.24 403.30 L176.98 403.10 L177.71 403.67 L178.44 403.17 L179.17 404.00 L179.90 404.08 L180.64 404.58 L181.37 404.54 L182.10 404.16 L182.83 404.41 L183.57 404.82 L184.33 404.26 L185.09 404.71 L185.85 404.48 L186.61 404.47 L187.37 404.46 L188.13 405.14 L188.89 404.61 L189.66 404.75 L190.42 404.92 L191.18 405.38 L191.94 404.73 L192.70 405.09 L193.46 405.21 L194.22 405.54 L194.99 405.52 L195.72 405.57 L196.45 405.10 L197.18 405.23 L197.91 405.21 L198.65 405.66 L199.38 405.74 L200.11 405.09 L200.84 405.40 L200.84 406.10 Z" fill="#0a0a0a"/>
<path d="M127.4 343.5H203.6V406.1H127.4Z" fill="none" stroke="#000" stroke-width="1.4"/>
<g transform="translate(119.90 405.10) rotate(-90)">
<text x="-1.70" y="0.00" font-size="7.4" font-weight="bold" textLength="3.40" lengthAdjust="spacingAndGlyphs" stroke="#111" stroke-width="0.25" stroke-linejoin="round" fill="#111" >0</text>
</g>
<g transform="translate(119.90 392.90) rotate(-90)">
<text x="-3.40" y="0.00" font-size="7.4" font-weight="bold" textLength="6.80" lengthAdjust="spacingAndGlyphs" stroke="#111" stroke-width="0.25" stroke-linejoin="round" fill="#111" >20</text>
</g>
<g transform="translate(119.90 380.70) rotate(-90)">
<text x="-3.40" y="0.00" font-size="7.4" font-weight="bold" textLength="6.80" lengthAdjust="spacingAndGlyphs" stroke="#111" stroke-width="0.25" stroke-linejoin="round" fill="#111" >40</text>
</g>
<g transform="translate(119.90 368.50) rotate(-90)">
<text x="-3.40" y="0.00" font-size="7.4" font-weight="bold" textLength="6.80" lengthAdjust="spacingAndGlyphs" stroke="#111" stroke-width="0.25" stroke-linejoin="round" fill="#111" >60</text>
</g>
<g transform="translate(119.90 356.30) rotate(-90)">
<text x="-3.40" y="0.00" font-size="7.4" font-weight="bold" textLength="6.80" lengthAdjust="spacingAndGlyphs" stroke="#111" stroke-width="0.25" stroke-linejoin="round" fill="#111" >80</text>
</g>
<g transform="translate(119.90 343.10) rotate(-90)">
<text x="-5.10" y="0.00" font-size="7.4" font-weight="bold" textLength="10.20" lengthAdjust="spacingAndGlyphs" stroke="#111" stroke-width="0.25" stroke-linejoin="round" fill="#111" >100</text>
</g>
<path d="M122.8 406.10H127.4M124.6 404.57H127.4M124.6 403.05H127.4M124.6 401.52H127.4M124.6 399.99H127.4M124.6 398.46H127.4M124.6 396.94H127.4M124.6 395.41H127.4M122.8 393.88H127.4M124.6 392.35H127.4M124.6 390.83H127.4M124.6 389.30H127.4M124.6 387.77H127.4M124.6 386.24H127.4M124.6 384.72H127.4M124.6 383.19H127.4M122.8 381.66H127.4M124.6 380.13H127.4M124.6 378.61H127.4M124.6 377.08H127.4M124.6 375.55H127.4M124.6 374.02H127.4M124.6 372.50H127.4M124.6 370.97H127.4M122.8 369.44H127.4M124.6 367.91H127.4M124.6 366.38H127.4M124.6 364.86H127.4M124.6 363.33H127.4M124.6 361.80H127.4M124.6 360.27H127.4M124.6 358.75H127.4M122.8 357.22H127.4M124.6 355.69H127.4M124.6 354.17H127.4M124.6 352.64H127.4M124.6 351.11H127.4M124.6 349.58H127.4M124.6 348.06H127.4M124.6 346.53H127.4M122.8 345.00H127.4M127.4 406.1v2.6M133.1 406.1v1.5M136.5 406.1v1.5M138.9 406.1v1.5M140.7 406.1v1.5M142.2 406.1v1.5M143.5 406.1v1.5M144.6 406.1v1.5M145.6 406.1v1.5M146.4 406.1v2.6M152.2 406.1v1.5M155.5 406.1v1.5M157.9 406.1v1.5M159.8 406.1v1.5M161.3 406.1v1.5M162.5 406.1v1.5M163.7 406.1v1.5M164.6 406.1v1.5M165.5 406.1v2.6M171.2 406.1v1.5M174.6 406.1v1.5M177.0 406.1v1.5M178.8 406.1v1.5M180.3 406.1v1.5M181.6 406.1v1.5M182.7 406.1v1.5M183.7 406.1v1.5M184.6 406.1v2.6M190.3 406.1v1.5M193.6 406.1v1.5M196.0 406.1v1.5M197.9 406.1v1.5M199.4 406.1v1.5M200.6 406.1v1.5M201.8 406.1v1.5M202.7 406.1v1.5M203.6 406.1v2.6" fill="none" stroke="#111" stroke-width="1.0"/>
<text x="122.10" y="417.40" font-size="7.2" font-weight="bold" textLength="7.60" lengthAdjust="spacingAndGlyphs" stroke="#111" stroke-width="0.25" stroke-linejoin="round" fill="#111" >10</text>
<text x="129.90" y="413.00" font-size="6.6" font-weight="bold" textLength="3.80" lengthAdjust="spacingAndGlyphs" stroke="#111" stroke-width="0.2" stroke-linejoin="round" fill="#111" >0</text>
<text x="140.77" y="417.40" font-size="7.2" font-weight="bold" textLength="7.60" lengthAdjust="spacingAndGlyphs" stroke="#111" stroke-width="0.25" stroke-linejoin="round" fill="#111" >10</text>
<text x="148.57" y="413.00" font-size="6.6" font-weight="bold" textLength="3.80" lengthAdjust="spacingAndGlyphs" stroke="#111" stroke-width="0.2" stroke-linejoin="round" fill="#111" >1</text>
<text x="159.44" y="417.40" font-size="7.2" font-weight="bold" textLength="7.60" lengthAdjust="spacingAndGlyphs" stroke="#111" stroke-width="0.25" stroke-linejoin="round" fill="#111" >10</text>
<text x="167.24" y="413.00" font-size="6.6" font-weight="bold" textLength="3.80" lengthAdjust="spacingAndGlyphs" stroke="#111" stroke-width="0.2" stroke-linejoin="round" fill="#111" >2</text>
<text x="178.11" y="417.40" font-size="7.2" font-weight="bold" textLength="7.60" lengthAdjust="spacingAndGlyphs" stroke="#111" stroke-width="0.25" stroke-linejoin="round" fill="#111" >10</text>
<text x="185.91" y="413.00" font-size="6.6" font-weight="bold" textLength="3.80" lengthAdjust="spacingAndGlyphs" stroke="#111" stroke-width="0.2" stroke-linejoin="round" fill="#111" >3</text>
<text x="196.78" y="417.40" font-size="7.2" font-weight="bold" textLength="7.60" lengthAdjust="spacingAndGlyphs" stroke="#111" stroke-width="0.25" stroke-linejoin="round" fill="#111" >10</text>
<text x="204.58" y="413.00" font-size="6.6" font-weight="bold" textLength="3.80" lengthAdjust="spacingAndGlyphs" stroke="#111" stroke-width="0.2" stroke-linejoin="round" fill="#111" >4</text>
<text x="150.50" y="355.00" font-size="9.5" textLength="30.75" lengthAdjust="spacingAndGlyphs" stroke="#111" stroke-width="0.2" stroke-linejoin="round" fill="#111" >MFI 54</text>
<line x1="163.25" y1="363.75" x2="163.25" y2="376.25" stroke="#111" stroke-width="1.5" />
<line x1="163.25" y1="370.00" x2="203.60" y2="370.00" stroke="#111" stroke-width="1.5" />
<text x="167.50" y="381.30" font-size="10" textLength="33.75" lengthAdjust="spacing" stroke="#111" stroke-width="0.2" stroke-linejoin="round" fill="#111" >17.8%</text>
<polyline points="236.93,393.24 238.10,388.85 239.56,383.00 241.03,377.14 242.49,372.75 243.96,369.09 244.83,368.06 246.01,371.28 247.18,376.41 248.35,381.53 249.52,387.39 250.69,393.24 251.57,398.37 252.30,402.03" fill="none" stroke="#000" stroke-width="1.15" stroke-dasharray="1.6 1.1"/>
<path d="M251.28 407.10 L251.28 406.24 L251.86 403.97 L252.52 402.92 L253.18 403.35 L253.84 402.49 L254.50 402.48 L255.23 403.09 L255.96 401.93 L256.69 402.20 L257.43 399.04 L258.16 399.40 L258.89 399.83 L259.62 397.86 L260.35 397.51 L261.09 394.24 L261.82 392.64 L262.40 390.61 L262.99 389.71 L263.58 389.33 L264.16 389.97 L264.75 386.66 L265.33 383.94 L265.92 383.28 L266.50 384.71 L267.38 383.01 L268.26 380.53 L269.14 374.40 L270.02 372.79 L270.60 372.73 L271.19 367.93 L271.77 367.61 L272.36 377.77 L273.24 385.79 L274.26 389.08 L275.29 384.80 L276.17 382.24 L277.05 390.10 L277.92 393.22 L278.51 394.45 L279.10 397.72 L279.83 398.86 L280.56 400.88 L281.44 402.49 L282.32 403.27 L283.05 404.09 L283.78 405.28 L284.51 405.41 L285.24 406.39 L285.98 406.71 L285.98 407.10 Z" fill="#0a0a0a"/>
<path d="M236 343.5H310.9V407.1H236Z" fill="none" stroke="#000" stroke-width="1.4"/>
<g transform="translate(228.50 406.10) rotate(-90)">
<text x="-1.85" y="0.00" font-size="8.0" font-weight="bold" textLength="3.70" lengthAdjust="spacingAndGlyphs" stroke="#111" stroke-width="0.25" stroke-linejoin="round" fill="#111" >0</text>
</g>
<g transform="translate(228.50 393.70) rotate(-90)">
<text x="-3.70" y="0.00" font-size="8.0" font-weight="bold" textLength="7.40" lengthAdjust="spacingAndGlyphs" stroke="#111" stroke-width="0.25" stroke-linejoin="round" fill="#111" >10</text>
</g>
<g transform="translate(228.50 381.30) rotate(-90)">
<text x="-3.70" y="0.00" font-size="8.0" font-weight="bold" textLength="7.40" lengthAdjust="spacingAndGlyphs" stroke="#111" stroke-width="0.25" stroke-linejoin="round" fill="#111" >20</text>
</g>
<g transform="translate(228.50 368.90) rotate(-90)">
<text x="-3.70" y="0.00" font-size="8.0" font-weight="bold" textLength="7.40" lengthAdjust="spacingAndGlyphs" stroke="#111" stroke-width="0.25" stroke-linejoin="round" fill="#111" >30</text>
</g>
<g transform="translate(228.50 356.50) rotate(-90)">
<text x="-3.70" y="0.00" font-size="8.0" font-weight="bold" textLength="7.40" lengthAdjust="spacingAndGlyphs" stroke="#111" stroke-width="0.25" stroke-linejoin="round" fill="#111" >40</text>
</g>
<g transform="translate(228.50 344.10) rotate(-90)">
<text x="-3.70" y="0.00" font-size="8.0" font-weight="bold" textLength="7.40" lengthAdjust="spacingAndGlyphs" stroke="#111" stroke-width="0.25" stroke-linejoin="round" fill="#111" >50</text>
</g>
<path d="M231.4 407.10H236.0M233.2 405.55H236.0M233.2 404.00H236.0M233.2 402.44H236.0M233.2 400.89H236.0M233.2 399.34H236.0M233.2 397.79H236.0M233.2 396.23H236.0M231.4 394.68H236.0M233.2 393.13H236.0M233.2 391.58H236.0M233.2 390.02H236.0M233.2 388.47H236.0M233.2 386.92H236.0M233.2 385.37H236.0M233.2 383.81H236.0M231.4 382.26H236.0M233.2 380.71H236.0M233.2 379.16H236.0M233.2 377.60H236.0M233.2 376.05H236.0M233.2 374.50H236.0M233.2 372.94H236.0M233.2 371.39H236.0M231.4 369.84H236.0M233.2 368.29H236.0M233.2 366.74H236.0M233.2 365.18H236.0M233.2 363.63H236.0M233.2 362.08H236.0M233.2 360.52H236.0M233.2 358.97H236.0M231.4 357.42H236.0M233.2 355.87H236.0M233.2 354.31H236.0M233.2 352.76H236.0M233.2 351.21H236.0M233.2 349.66H236.0M233.2 348.11H236.0M233.2 346.55H236.0M231.4 345.00H236.0M236.0 407.1v2.6M241.6 407.1v1.5M244.9 407.1v1.5M247.3 407.1v1.5M249.1 407.1v1.5M250.6 407.1v1.5M251.8 407.1v1.5M252.9 407.1v1.5M253.9 407.1v1.5M254.7 407.1v2.6M260.4 407.1v1.5M263.7 407.1v1.5M266.0 407.1v1.5M267.8 407.1v1.5M269.3 407.1v1.5M270.5 407.1v1.5M271.6 407.1v1.5M272.6 407.1v1.5M273.4 407.1v2.6M279.1 407.1v1.5M282.4 407.1v1.5M284.7 407.1v1.5M286.5 407.1v1.5M288.0 407.1v1.5M289.3 407.1v1.5M290.4 407.1v1.5M291.3 407.1v1.5M292.2 407.1v2.6M297.8 407.1v1.5M301.1 407.1v1.5M303.4 407.1v1.5M305.3 407.1v1.5M306.7 407.1v1.5M308.0 407.1v1.5M309.1 407.1v1.5M310.0 407.1v1.5M310.9 407.1v2.6" fill="none" stroke="#111" stroke-width="1.0"/>
<text x="230.70" y="418.40" font-size="7.2" font-weight="bold" textLength="7.60" lengthAdjust="spacingAndGlyphs" stroke="#111" stroke-width="0.25" stroke-linejoin="round" fill="#111" >10</text>
<text x="238.50" y="414.00" font-size="6.6" font-weight="bold" textLength="3.80" lengthAdjust="spacingAndGlyphs" stroke="#111" stroke-width="0.2" stroke-linejoin="round" fill="#111" >0</text>
<text x="249.05" y="418.40" font-size="7.2" font-weight="bold" textLength="7.60" lengthAdjust="spacingAndGlyphs" stroke="#111" stroke-width="0.25" stroke-linejoin="round" fill="#111" >10</text>
<text x="256.85" y="414.00" font-size="6.6" font-weight="bold" textLength="3.80" lengthAdjust="spacingAndGlyphs" stroke="#111" stroke-width="0.2" stroke-linejoin="round" fill="#111" >1</text>
<text x="267.40" y="418.40" font-size="7.2" font-weight="bold" textLength="7.60" lengthAdjust="spacingAndGlyphs" stroke="#111" stroke-width="0.25" stroke-linejoin="round" fill="#111" >10</text>
<text x="275.20" y="414.00" font-size="6.6" font-weight="bold" textLength="3.80" lengthAdjust="spacingAndGlyphs" stroke="#111" stroke-width="0.2" stroke-linejoin="round" fill="#111" >2</text>
<text x="285.75" y="418.40" font-size="7.2" font-weight="bold" textLength="7.60" lengthAdjust="spacingAndGlyphs" stroke="#111" stroke-width="0.25" stroke-linejoin="round" fill="#111" >10</text>
<text x="293.55" y="414.00" font-size="6.6" font-weight="bold" textLength="3.80" lengthAdjust="spacingAndGlyphs" stroke="#111" stroke-width="0.2" stroke-linejoin="round" fill="#111" >3</text>
<text x="303.60" y="418.40" font-size="7.2" font-weight="bold" textLength="7.60" lengthAdjust="spacingAndGlyphs" stroke="#111" stroke-width="0.25" stroke-linejoin="round" fill="#111" >10</text>
<text x="311.40" y="413.60" font-size="7" font-weight="bold" fill="#111" >'</text>
<text x="254.50" y="355.00" font-size="9.5" textLength="30.50" lengthAdjust="spacingAndGlyphs" stroke="#111" stroke-width="0.2" stroke-linejoin="round" fill="#111" >MFI 77</text>
<line x1="271.25" y1="363.00" x2="271.25" y2="376.00" stroke="#111" stroke-width="1.5" />
<line x1="271.25" y1="370.00" x2="310.90" y2="370.00" stroke="#111" stroke-width="1.5" />
<text x="275.00" y="381.30" font-size="10" textLength="33.75" lengthAdjust="spacing" stroke="#111" stroke-width="0.2" stroke-linejoin="round" fill="#111" >36.7%</text>
<polyline points="342.12,390.32 342.86,385.92 344.03,380.07 345.05,374.21 346.08,368.35 347.25,362.50 348.42,358.11 349.30,356.64 350.18,361.03 351.06,366.89 351.93,372.75 352.81,378.60 353.69,384.46 354.57,390.32 355.45,396.17 356.03,400.57" fill="none" stroke="#000" stroke-width="1.15" stroke-dasharray="1.6 1.1"/>
<path d="M345.78 407.20 L345.78 406.40 L346.52 406.15 L347.25 405.79 L347.98 406.15 L348.71 405.30 L349.45 405.51 L350.18 405.65 L350.91 404.79 L351.64 405.00 L352.37 404.82 L353.11 404.04 L353.84 404.11 L354.47 403.47 L355.11 402.22 L355.74 401.59 L356.77 402.37 L357.50 401.33 L358.23 400.02 L358.96 398.38 L359.69 396.99 L360.43 393.45 L361.16 391.04 L361.89 386.30 L362.62 383.86 L363.21 378.53 L363.79 376.26 L364.82 372.14 L365.40 369.54 L365.99 364.99 L366.87 359.27 L367.45 357.34 L368.33 360.77 L369.21 362.70 L370.09 368.57 L370.97 369.81 L371.85 378.76 L372.87 385.72 L373.90 389.15 L374.48 392.97 L375.07 396.16 L375.65 397.58 L376.24 400.46 L377.12 402.53 L378.00 403.09 L378.73 403.96 L379.46 403.86 L380.19 404.66 L380.92 405.30 L381.66 404.62 L382.39 404.38 L383.12 404.36 L383.85 404.70 L384.58 404.60 L385.32 405.03 L386.05 405.72 L386.78 406.38 L387.51 406.42 L387.51 407.20 Z" fill="#0a0a0a"/>
<path d="M339.3 343.9H414V407.2H339.3Z" fill="none" stroke="#000" stroke-width="1.4"/>
<g transform="translate(331.80 406.20) rotate(-90)">
<text x="-1.85" y="0.00" font-size="8.0" font-weight="bold" textLength="3.70" lengthAdjust="spacingAndGlyphs" stroke="#111" stroke-width="0.25" stroke-linejoin="round" fill="#111" >0</text>
</g>
<g transform="translate(331.80 393.86) rotate(-90)">
<text x="-3.70" y="0.00" font-size="8.0" font-weight="bold" textLength="7.40" lengthAdjust="spacingAndGlyphs" stroke="#111" stroke-width="0.25" stroke-linejoin="round" fill="#111" >10</text>
</g>
<g transform="translate(331.80 381.52) rotate(-90)">
<text x="-3.70" y="0.00" font-size="8.0" font-weight="bold" textLength="7.40" lengthAdjust="spacingAndGlyphs" stroke="#111" stroke-width="0.25" stroke-linejoin="round" fill="#111" >20</text>
</g>
<g transform="translate(331.80 369.18) rotate(-90)">
<text x="-3.70" y="0.00" font-size="8.0" font-weight="bold" textLength="7.40" lengthAdjust="spacingAndGlyphs" stroke="#111" stroke-width="0.25" stroke-linejoin="round" fill="#111" >30</text>
</g>
<g transform="translate(331.80 356.84) rotate(-90)">
<text x="-3.70" y="0.00" font-size="8.0" font-weight="bold" textLength="7.40" lengthAdjust="spacingAndGlyphs" stroke="#111" stroke-width="0.25" stroke-linejoin="round" fill="#111" >40</text>
</g>
<g transform="translate(331.80 344.50) rotate(-90)">
<text x="-3.70" y="0.00" font-size="8.0" font-weight="bold" textLength="7.40" lengthAdjust="spacingAndGlyphs" stroke="#111" stroke-width="0.25" stroke-linejoin="round" fill="#111" >50</text>
</g>
<path d="M334.7 407.20H339.3M336.5 405.65H339.3M336.5 404.11H339.3M336.5 402.56H339.3M336.5 401.02H339.3M336.5 399.47H339.3M336.5 397.93H339.3M336.5 396.38H339.3M334.7 394.84H339.3M336.5 393.29H339.3M336.5 391.75H339.3M336.5 390.20H339.3M336.5 388.66H339.3M336.5 387.12H339.3M336.5 385.57H339.3M336.5 384.02H339.3M334.7 382.48H339.3M336.5 380.94H339.3M336.5 379.39H339.3M336.5 377.84H339.3M336.5 376.30H339.3M336.5 374.75H339.3M336.5 373.21H339.3M336.5 371.66H339.3M334.7 370.12H339.3M336.5 368.57H339.3M336.5 367.03H339.3M336.5 365.48H339.3M336.5 363.94H339.3M336.5 362.39H339.3M336.5 360.85H339.3M336.5 359.30H339.3M334.7 357.76H339.3M336.5 356.21H339.3M336.5 354.67H339.3M336.5 353.12H339.3M336.5 351.58H339.3M336.5 350.03H339.3M336.5 348.49H339.3M336.5 346.94H339.3M334.7 345.40H339.3M339.3 407.2v2.6M344.9 407.2v1.5M348.2 407.2v1.5M350.5 407.2v1.5M352.4 407.2v1.5M353.8 407.2v1.5M355.1 407.2v1.5M356.2 407.2v1.5M357.1 407.2v1.5M358.0 407.2v2.6M363.6 407.2v1.5M366.9 407.2v1.5M369.2 407.2v1.5M371.0 407.2v1.5M372.5 407.2v1.5M373.8 407.2v1.5M374.8 407.2v1.5M375.8 407.2v1.5M376.6 407.2v2.6M382.3 407.2v1.5M385.6 407.2v1.5M387.9 407.2v1.5M389.7 407.2v1.5M391.2 407.2v1.5M392.4 407.2v1.5M393.5 407.2v1.5M394.5 407.2v1.5M395.3 407.2v2.6M400.9 407.2v1.5M404.2 407.2v1.5M406.6 407.2v1.5M408.4 407.2v1.5M409.9 407.2v1.5M411.1 407.2v1.5M412.2 407.2v1.5M413.1 407.2v1.5M414.0 407.2v2.6" fill="none" stroke="#111" stroke-width="1.0"/>
<text x="334.00" y="418.50" font-size="7.2" font-weight="bold" textLength="7.60" lengthAdjust="spacingAndGlyphs" stroke="#111" stroke-width="0.25" stroke-linejoin="round" fill="#111" >10</text>
<text x="341.80" y="414.10" font-size="6.6" font-weight="bold" textLength="3.80" lengthAdjust="spacingAndGlyphs" stroke="#111" stroke-width="0.2" stroke-linejoin="round" fill="#111" >0</text>
<text x="352.30" y="418.50" font-size="7.2" font-weight="bold" textLength="7.60" lengthAdjust="spacingAndGlyphs" stroke="#111" stroke-width="0.25" stroke-linejoin="round" fill="#111" >10</text>
<text x="360.10" y="414.10" font-size="6.6" font-weight="bold" textLength="3.80" lengthAdjust="spacingAndGlyphs" stroke="#111" stroke-width="0.2" stroke-linejoin="round" fill="#111" >1</text>
<text x="370.60" y="418.50" font-size="7.2" font-weight="bold" textLength="7.60" lengthAdjust="spacingAndGlyphs" stroke="#111" stroke-width="0.25" stroke-linejoin="round" fill="#111" >10</text>
<text x="378.40" y="414.10" font-size="6.6" font-weight="bold" textLength="3.80" lengthAdjust="spacingAndGlyphs" stroke="#111" stroke-width="0.2" stroke-linejoin="round" fill="#111" >2</text>
<text x="388.90" y="418.50" font-size="7.2" font-weight="bold" textLength="7.60" lengthAdjust="spacingAndGlyphs" stroke="#111" stroke-width="0.25" stroke-linejoin="round" fill="#111" >10</text>
<text x="396.70" y="414.10" font-size="6.6" font-weight="bold" textLength="3.80" lengthAdjust="spacingAndGlyphs" stroke="#111" stroke-width="0.2" stroke-linejoin="round" fill="#111" >3</text>
<text x="407.21" y="418.50" font-size="7.2" font-weight="bold" textLength="7.60" lengthAdjust="spacingAndGlyphs" stroke="#111" stroke-width="0.25" stroke-linejoin="round" fill="#111" >10</text>
<text x="415.01" y="414.10" font-size="6.6" font-weight="bold" textLength="3.80" lengthAdjust="spacingAndGlyphs" stroke="#111" stroke-width="0.2" stroke-linejoin="round" fill="#111" >4</text>
<text x="358.75" y="355.50" font-size="9.5" textLength="30.75" lengthAdjust="spacingAndGlyphs" stroke="#111" stroke-width="0.2" stroke-linejoin="round" fill="#111" >MFI 41</text>
<line x1="374.25" y1="363.75" x2="374.25" y2="377.00" stroke="#111" stroke-width="1.5" />
<line x1="374.25" y1="370.50" x2="414.00" y2="370.50" stroke="#111" stroke-width="1.5" />
<text x="381.25" y="381.30" font-size="10" textLength="26.25" lengthAdjust="spacing" stroke="#111" stroke-width="0.2" stroke-linejoin="round" fill="#111" >8.7%</text>
<polyline points="441.38,394.61 442.19,390.58 443.35,385.96 444.50,381.35 446.00,376.73 447.38,372.69 448.54,369.23 449.46,372.69 450.61,376.73 451.77,381.92 452.92,387.69 454.08,393.46 455.00,398.08 455.69,400.96" fill="none" stroke="#000" stroke-width="1.15" stroke-dasharray="1.6 1.1"/>
<path d="M453.15 407.40 L453.15 407.35 L453.73 403.19 L454.60 402.78 L455.46 401.75 L456.33 403.06 L457.19 403.62 L458.06 403.15 L458.92 402.29 L459.50 402.14 L460.08 401.31 L460.77 397.05 L461.46 402.13 L462.21 402.46 L462.96 401.55 L463.83 402.83 L464.69 402.81 L465.27 401.38 L465.85 400.07 L466.54 399.22 L467.23 397.42 L467.81 398.68 L468.38 399.49 L469.31 393.83 L470.23 389.60 L470.81 388.58 L471.61 392.35 L472.19 392.58 L472.77 392.42 L473.34 391.72 L473.92 391.42 L474.84 396.65 L475.42 395.96 L476.00 396.67 L476.81 394.91 L477.38 392.45 L478.31 397.01 L479.11 400.29 L479.69 401.27 L480.27 403.36 L481.13 403.92 L482.00 403.49 L482.92 401.77 L483.61 404.34 L484.31 401.54 L485.23 404.42 L486.04 405.84 L486.61 407.31 L486.61 407.40 Z" fill="#0a0a0a"/>
<path d="M439.6 344H514.6V407.4H439.6Z" fill="none" stroke="#000" stroke-width="1.4"/>
<g transform="translate(432.10 406.40) rotate(-90)">
<text x="-1.85" y="0.00" font-size="8.0" font-weight="bold" textLength="3.70" lengthAdjust="spacingAndGlyphs" stroke="#111" stroke-width="0.25" stroke-linejoin="round" fill="#111" >0</text>
</g>
<g transform="translate(432.10 394.04) rotate(-90)">
<text x="-3.70" y="0.00" font-size="8.0" font-weight="bold" textLength="7.40" lengthAdjust="spacingAndGlyphs" stroke="#111" stroke-width="0.25" stroke-linejoin="round" fill="#111" >10</text>
</g>
<g transform="translate(432.10 381.68) rotate(-90)">
<text x="-3.70" y="0.00" font-size="8.0" font-weight="bold" textLength="7.40" lengthAdjust="spacingAndGlyphs" stroke="#111" stroke-width="0.25" stroke-linejoin="round" fill="#111" >20</text>
</g>
<g transform="translate(432.10 369.32) rotate(-90)">
<text x="-3.70" y="0.00" font-size="8.0" font-weight="bold" textLength="7.40" lengthAdjust="spacingAndGlyphs" stroke="#111" stroke-width="0.25" stroke-linejoin="round" fill="#111" >30</text>
</g>
<g transform="translate(432.10 356.96) rotate(-90)">
<text x="-3.70" y="0.00" font-size="8.0" font-weight="bold" textLength="7.40" lengthAdjust="spacingAndGlyphs" stroke="#111" stroke-width="0.25" stroke-linejoin="round" fill="#111" >40</text>
</g>
<g transform="translate(432.10 344.60) rotate(-90)">
<text x="-3.70" y="0.00" font-size="8.0" font-weight="bold" textLength="7.40" lengthAdjust="spacingAndGlyphs" stroke="#111" stroke-width="0.25" stroke-linejoin="round" fill="#111" >50</text>
</g>
<path d="M435.0 407.40H439.6M436.8 405.85H439.6M436.8 404.30H439.6M436.8 402.76H439.6M436.8 401.21H439.6M436.8 399.66H439.6M436.8 398.12H439.6M436.8 396.57H439.6M435.0 395.02H439.6M436.8 393.47H439.6M436.8 391.92H439.6M436.8 390.38H439.6M436.8 388.83H439.6M436.8 387.28H439.6M436.8 385.74H439.6M436.8 384.19H439.6M435.0 382.64H439.6M436.8 381.09H439.6M436.8 379.54H439.6M436.8 378.00H439.6M436.8 376.45H439.6M436.8 374.90H439.6M436.8 373.36H439.6M436.8 371.81H439.6M435.0 370.26H439.6M436.8 368.71H439.6M436.8 367.16H439.6M436.8 365.62H439.6M436.8 364.07H439.6M436.8 362.52H439.6M436.8 360.98H439.6M436.8 359.43H439.6M435.0 357.88H439.6M436.8 356.33H439.6M436.8 354.78H439.6M436.8 353.24H439.6M436.8 351.69H439.6M436.8 350.14H439.6M436.8 348.60H439.6M436.8 347.05H439.6M435.0 345.50H439.6M439.6 407.4v2.6M445.2 407.4v1.5M448.5 407.4v1.5M450.9 407.4v1.5M452.7 407.4v1.5M454.2 407.4v1.5M455.4 407.4v1.5M456.5 407.4v1.5M457.5 407.4v1.5M458.4 407.4v2.6M464.0 407.4v1.5M467.3 407.4v1.5M469.6 407.4v1.5M471.5 407.4v1.5M472.9 407.4v1.5M474.2 407.4v1.5M475.3 407.4v1.5M476.2 407.4v1.5M477.1 407.4v2.6M482.7 407.4v1.5M486.0 407.4v1.5M488.4 407.4v1.5M490.2 407.4v1.5M491.7 407.4v1.5M492.9 407.4v1.5M494.0 407.4v1.5M495.0 407.4v1.5M495.9 407.4v2.6M501.5 407.4v1.5M504.8 407.4v1.5M507.1 407.4v1.5M509.0 407.4v1.5M510.4 407.4v1.5M511.7 407.4v1.5M512.8 407.4v1.5M513.7 407.4v1.5M514.6 407.4v2.6" fill="none" stroke="#111" stroke-width="1.0"/>
<text x="434.30" y="418.70" font-size="7.2" font-weight="bold" textLength="7.60" lengthAdjust="spacingAndGlyphs" stroke="#111" stroke-width="0.25" stroke-linejoin="round" fill="#111" >10</text>
<text x="442.10" y="414.30" font-size="6.6" font-weight="bold" textLength="3.80" lengthAdjust="spacingAndGlyphs" stroke="#111" stroke-width="0.2" stroke-linejoin="round" fill="#111" >0</text>
<text x="452.68" y="418.70" font-size="7.2" font-weight="bold" textLength="7.60" lengthAdjust="spacingAndGlyphs" stroke="#111" stroke-width="0.25" stroke-linejoin="round" fill="#111" >10</text>
<text x="460.48" y="414.30" font-size="6.6" font-weight="bold" textLength="3.80" lengthAdjust="spacingAndGlyphs" stroke="#111" stroke-width="0.2" stroke-linejoin="round" fill="#111" >1</text>
<text x="471.05" y="418.70" font-size="7.2" font-weight="bold" textLength="7.60" lengthAdjust="spacingAndGlyphs" stroke="#111" stroke-width="0.25" stroke-linejoin="round" fill="#111" >10</text>
<text x="478.85" y="414.30" font-size="6.6" font-weight="bold" textLength="3.80" lengthAdjust="spacingAndGlyphs" stroke="#111" stroke-width="0.2" stroke-linejoin="round" fill="#111" >2</text>
<text x="489.43" y="418.70" font-size="7.2" font-weight="bold" textLength="7.60" lengthAdjust="spacingAndGlyphs" stroke="#111" stroke-width="0.25" stroke-linejoin="round" fill="#111" >10</text>
<text x="497.23" y="414.30" font-size="6.6" font-weight="bold" textLength="3.80" lengthAdjust="spacingAndGlyphs" stroke="#111" stroke-width="0.2" stroke-linejoin="round" fill="#111" >3</text>
<text x="507.80" y="418.70" font-size="7.2" font-weight="bold" textLength="7.60" lengthAdjust="spacingAndGlyphs" stroke="#111" stroke-width="0.25" stroke-linejoin="round" fill="#111" >10</text>
<text x="515.60" y="414.30" font-size="6.6" font-weight="bold" textLength="3.80" lengthAdjust="spacingAndGlyphs" stroke="#111" stroke-width="0.2" stroke-linejoin="round" fill="#111" >4</text>
<text x="458.60" y="355.60" font-size="9.5" textLength="31.00" lengthAdjust="spacingAndGlyphs" stroke="#111" stroke-width="0.2" stroke-linejoin="round" fill="#111" >MFI 67</text>
<line x1="474.25" y1="363.75" x2="474.25" y2="377.00" stroke="#111" stroke-width="1.5" />
<line x1="474.25" y1="370.50" x2="514.60" y2="370.50" stroke="#111" stroke-width="1.5" />
<text x="476.75" y="382.00" font-size="10" textLength="34.50" lengthAdjust="spacing" stroke="#111" stroke-width="0.2" stroke-linejoin="round" fill="#111" >30.8%</text>
</svg>
</body></html>
